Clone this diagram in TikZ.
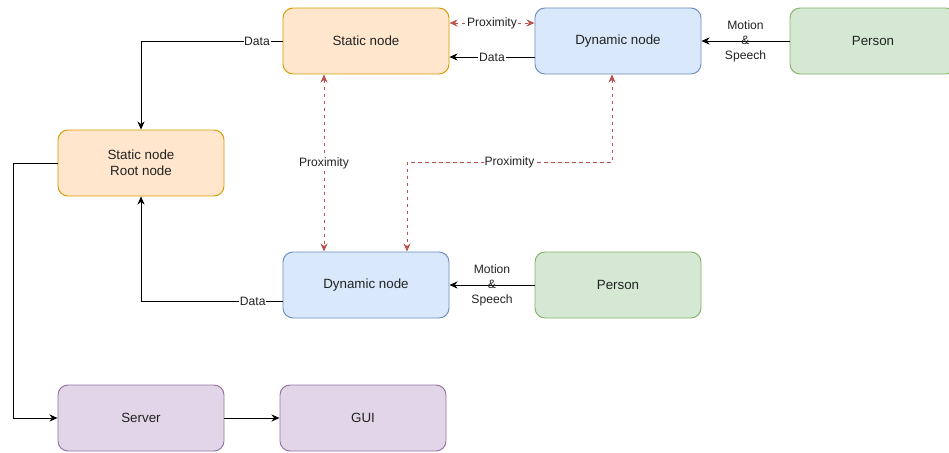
\documentclass[tikz,border=0pt]{standalone}
\usepackage{fontspec}
\setmainfont{Liberation Sans}
\usepackage{xcolor}
\usetikzlibrary{arrows.meta,positioning}

\definecolor{staticfill}{HTML}{FFE6CC}
\definecolor{staticline}{HTML}{D79B00}
\definecolor{dynfill}{HTML}{DAE8FC}
\definecolor{dynline}{HTML}{6C8EBF}
\definecolor{personfill}{HTML}{D5E8D4}
\definecolor{personline}{HTML}{82B366}
\definecolor{serverfill}{HTML}{E1D5E7}
\definecolor{serverline}{HTML}{9673A6}
\definecolor{proxred}{HTML}{B85450}
\definecolor{textgray}{HTML}{222222}

\begin{document}
\begin{tikzpicture}[x=0.2mm, y=-0.2mm,
    box/.style={draw, rounded corners=2mm, line width=0.55pt, minimum width=33.2mm, minimum height=13.2mm,
        inner sep=0pt, align=center, text=textgray, font=\fontsize{7.6}{9.1}\selectfont},
    staticbox/.style={box, fill=staticfill, draw=staticline},
    dynbox/.style={box, fill=dynfill, draw=dynline},
    personbox/.style={box, fill=personfill, draw=personline},
    serverbox/.style={box, fill=serverfill, draw=serverline},
    link/.style={line width=0.5pt, -{Stealth[length=1.6mm, width=1.4mm, inset=0.5mm]}},
    proxlink/.style={line width=0.5pt, draw=proxred, dash pattern=on 0.7mm off 0.7mm,
        {Stealth[length=1.6mm, width=1.4mm, inset=0.5mm]}-{Stealth[length=1.6mm, width=1.4mm, inset=0.5mm]}},
    lbl/.style={font=\fontsize{6.9}{8.6}\selectfont, text=textgray, fill=white, inner sep=0.4pt, align=center},
    talk/.style={font=\fontsize{6.9}{8.6}\selectfont, text=textgray, align=center, inner sep=0pt}]
    \useasboundingbox (0,0) rectangle (949,452);

    \node[staticbox] (static) at (366,41) {Static node};
    \node[dynbox] (dyntop) at (618,41) {Dynamic node};
    \node[personbox] (persontop) at (873,41) {Person};
    \node[staticbox] (root) at (141,163) {Static node\\Root node};
    \node[dynbox] (dynbot) at (366,285) {Dynamic node};
    \node[personbox] (personbot) at (618,285) {Person};
    \node[serverbox] (server) at (141,418) {Server};
    \node[serverbox] (gui) at (363,418) {GUI};

    \draw[link] (static.west) -| node[lbl, pos=0.09] {Data} (root.north);
    \draw[proxlink] ([yshift=3.6mm]static.east) -- node[lbl] {Proximity} ([yshift=3.6mm]dyntop.west);
    \draw[link] ([yshift=-3.2mm]dyntop.west) -- node[lbl] {Data} ([yshift=-3.2mm]static.east);
    \draw[link] (persontop.west) -- node[talk] {Motion\\\&\\Speech} (dyntop.east);

    % proximity links
    \draw[proxlink] ([xshift=-8.4mm]static.south) -- node[lbl] {Proximity} ([xshift=-8.4mm]dynbot.north);
    \draw[proxlink] ([xshift=-1.2mm]dyntop.south) -- ++(0,88) -| node[lbl, pos=0.25] {Proximity} ([xshift=8.2mm]dynbot.north);

    \draw[link] ([yshift=-3.2mm]dynbot.west) -| node[lbl, pos=0.105] {Data} (root.south);
    \draw[link] (personbot.west) -- node[talk] {Motion\\\&\\Speech} (dynbot.east);

    \draw[link] (root.west) -- ++(-44,0) |- (server.west);
    \draw[link] (server.east) -- (gui.west);
\end{tikzpicture}
\end{document}
